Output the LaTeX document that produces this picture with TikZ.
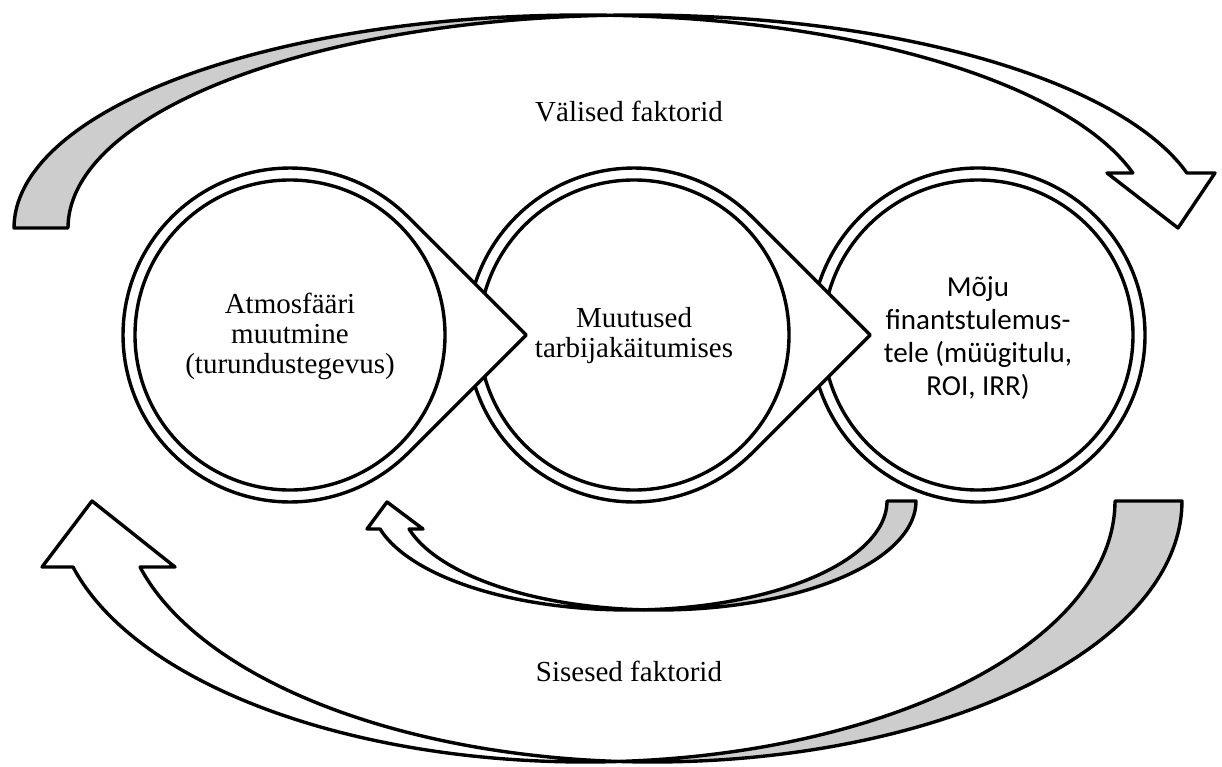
\documentclass[tikz,border=0pt]{standalone}
\usepackage{fontspec}
\setmainfont{Liberation Serif}
\newfontfamily\calib{Carlito}
\definecolor{backgray}{RGB}{205,205,205}
\newcommand\chevcircle[2]{%
  \filldraw[ring] plot[domain=315:45, samples=121] ({#1+167*cos(\x)},{#2+167*sin(\x)}) -- ({#1+236.2},#2) -- cycle;
  \draw (#1,#2) circle[radius=155pt];
}
\begin{document}
\begin{tikzpicture}[x=1pt,y=-1pt,
  line width=3.4pt, line join=round,
  ring/.style={draw=black, fill=white},
  back/.style={draw=black, fill=backgray},
  front/.style={draw=black, fill=white},
  lbl/.style={font=\fontsize{29}{30}\selectfont, align=center, inner sep=0pt},
  lblsans/.style={font=\calib\fontsize{29}{33}\selectfont, align=center, inner sep=0pt}]
\useasboundingbox[fill=white] (0,0) rectangle (1222,767);

% circles (drawn right to left so each chevron lies on the next circle)
\filldraw[ring] (978,335) circle[radius=167pt];
\draw (978,335) circle[radius=155pt];
\chevcircle{634}{335}
\chevcircle{290}{335}

% top curved arrow (Välised faktorid)
\filldraw[back] plot[domain=180:272.72, samples=80] ({583.1+569.1*cos(\x)},{228+213*sin(\x)})
  -- plot[domain=267.28:180, samples=80] ({637.1+569.1*cos(\x)},{228+213*sin(\x)}) -- cycle;
\filldraw[front] plot[domain=267.28:345.03, samples=80] ({637.1+569.1*cos(\x)},{228+213*sin(\x)})
  -- (1215,173) -- (1178,228) -- (1107,173)
  -- plot[domain=345.03:272.72, samples=80] ({583.1+569.1*cos(\x)},{228+213*sin(\x)}) -- cycle;

% bottom large curved arrow (Sisesed faktorid)
\filldraw[back] plot[domain=0:86.37, samples=80] ({585.4+529.6*cos(\x)},{501+261*sin(\x)})
  -- plot[domain=93.63:0, samples=80] ({652.4+529.6*cos(\x)},{501+261*sin(\x)}) -- cycle;
\filldraw[front] plot[domain=86.37:165.35, samples=80] ({585.4+529.6*cos(\x)},{501+261*sin(\x)})
  -- (42,567) -- (92,501) -- (175,567)
  -- plot[domain=165.35:93.63, samples=80] ({652.4+529.6*cos(\x)},{501+261*sin(\x)}) -- cycle;

% inner small curved arrow
\filldraw[back] plot[domain=0:86.78, samples=60] ({629.2+257.8*cos(\x)},{501+109*sin(\x)})
  -- plot[domain=93.22:0, samples=60] ({658.2+257.8*cos(\x)},{501+109*sin(\x)}) -- cycle;
\filldraw[front] plot[domain=86.78:165.12, samples=60] ({629.2+257.8*cos(\x)},{501+109*sin(\x)})
  -- (367,529) -- (387,502) -- (423,529)
  -- plot[domain=165.12:93.22, samples=60] ({658.2+257.8*cos(\x)},{501+109*sin(\x)}) -- cycle;

% texts
\node[lbl] (t1) at (290,336) {Atmosfääri\\muutmine\\(turundustegevus)};
\node[lbl] (t2) at (634,336) {Muutused\\tarbijakäitumises};
\node[lblsans] (t3) at (978,338) {Mõju\\finantstulemus-\\tele (müügitulu,\\ROI, IRR)};
\node[lbl, anchor=base] (ext) at (629,122) {Välised faktorid};
\node[lbl, anchor=base] (int) at (629,681) {Sisesed faktorid};
\end{tikzpicture}
\end{document}
